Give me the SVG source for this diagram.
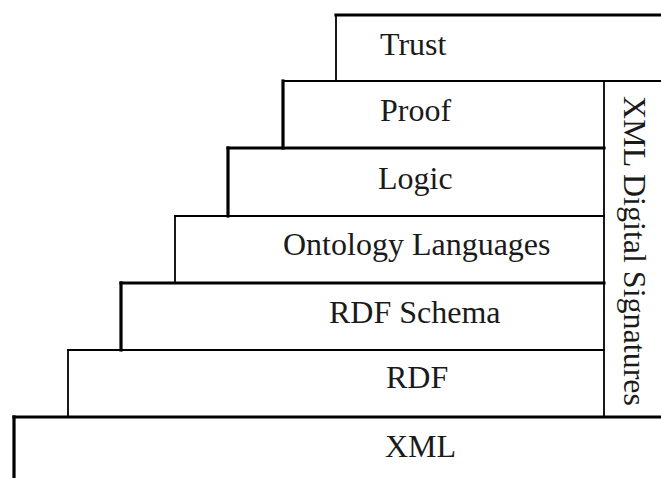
<svg xmlns="http://www.w3.org/2000/svg" width="661" height="478" viewBox="0 0 661 478">
  <style>
    .edge { fill: none; stroke: #000; stroke-linecap: square; }
    .thick { stroke-width: 3.2; }
    .thin { stroke-width: 1.8; }
    .label { font-family: "Liberation Serif", "Times New Roman", serif; font-size: 32px; fill: #1a1a1a; }
  </style>
  <rect x="0" y="0" width="661" height="478" fill="#fff"/>

  <!-- layer stack, each layer drawn by its top and left edges -->
  <g id="trust">
    <line class="edge thick" x1="336" y1="15" x2="662" y2="15"/>
    <line class="edge thin" x1="336" y1="15" x2="336" y2="81"/>
    <text class="label" x="380" y="55">Trust</text>
  </g>
  <g id="proof">
    <line class="edge thin" x1="283" y1="81" x2="662" y2="81"/>
    <line class="edge thick" x1="283" y1="81" x2="283" y2="148"/>
    <text class="label" x="380" y="121">Proof</text>
  </g>
  <g id="logic">
    <line class="edge thick" x1="228" y1="148" x2="604" y2="148"/>
    <line class="edge thick" x1="228" y1="148" x2="228" y2="216"/>
    <text class="label" x="378" y="189">Logic</text>
  </g>
  <g id="ontology">
    <line class="edge thin" x1="175" y1="216" x2="604" y2="216"/>
    <line class="edge thin" x1="175" y1="216" x2="175" y2="283"/>
    <text class="label" x="283" y="255">Ontology Languages</text>
  </g>
  <g id="rdf-schema">
    <line class="edge thick" x1="121" y1="283" x2="604" y2="283"/>
    <line class="edge thick" x1="121" y1="283" x2="121" y2="350"/>
    <text class="label" x="329" y="323">RDF Schema</text>
  </g>
  <g id="rdf">
    <line class="edge thin" x1="68" y1="350" x2="604" y2="350"/>
    <line class="edge thin" x1="68" y1="350" x2="68" y2="417"/>
    <text class="label" x="386" y="388">RDF</text>
  </g>
  <g id="xml">
    <line class="edge thick" x1="14" y1="417" x2="662" y2="417"/>
    <line class="edge thick" x1="14" y1="417" x2="14" y2="480"/>
    <text class="label" x="385" y="457">XML</text>
  </g>
  <g id="signatures">
    <line class="edge thin" x1="604" y1="81" x2="604" y2="417"/>
    <text class="label" transform="translate(624,251) rotate(90)" x="0" y="0" text-anchor="middle">XML Digital Signatures</text>
  </g>

  <!-- no connectors in this stack -->
  <g id="connectors"/>
</svg>
